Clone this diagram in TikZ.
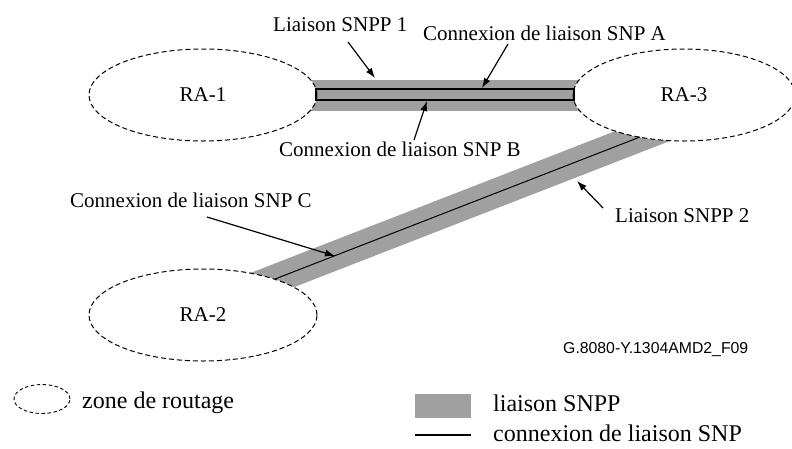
\documentclass[tikz,border=0pt]{standalone}
\usepackage{fontspec}
\setmainfont{Liberation Serif}
\newfontfamily\figsans{Liberation Sans}
\usetikzlibrary{shapes.geometric,arrows.meta}
\definecolor{bandgray}{RGB}{160,160,160}

\tikzset{
  zone/.style={ellipse, draw=black, line width=1pt, dash pattern=on 5pt off 3pt,
    fill=white, inner sep=0pt, minimum width=228pt, minimum height=92pt,
    font=\fontsize{21}{25}\selectfont},
  band/.style={draw=bandgray, line width=31pt, line cap=butt},
  diagband/.style={draw=bandgray, line width=29pt, line cap=butt},
  snpline/.style={draw=black, line width=1.4pt},
  pointer/.style={draw=black, line width=1.2pt, -{Latex[length=10pt,width=7pt]}},
  lbl/.style={anchor=base west, inner sep=0pt, font=\fontsize{21}{25}\selectfont},
  leglbl/.style={anchor=base west, inner sep=0pt, font=\fontsize{24}{28}\selectfont},
}

\begin{document}
\begin{tikzpicture}[x=1pt,y=-1pt]
\useasboundingbox (0,0) rectangle (792,448);

% SNPP links (grey bands), laid under the routing areas
\coordinate (b1s) at (300,95.5);
\coordinate (b1e) at (600,95.5);
\draw[band] (b1s) -- (b1e);
\coordinate (b2s) at (237.7,293.5);
\coordinate (b2e) at (674.5,123.6);
\draw[diagband] (b2s) -- (b2e);

% routing areas
\node[zone] (ra1) at (203,95) {RA-1};
\node[zone, minimum width=222pt] (ra3) at (684,95) {RA-3};
\node[zone] (ra2) at (203,315) {RA-2};

% SNP link connections
\coordinate (a1) at (316,89);
\coordinate (a2) at (574,100);
\draw[snpline] (a1) rectangle (a2);
\coordinate (c1) at (275,279);
\coordinate (c2) at (640,137);
\draw[draw=black, line width=1pt] (c1) -- (c2);

% labels
\node[lbl] (snpp1) at (273,31) {Liaison SNPP 1};
\node[lbl] (snpA) at (423,40) {Connexion de liaison SNP A};
\node[lbl] (snpB) at (279,156) {Connexion de liaison SNP B};
\node[lbl] (snpC) at (70,207) {Connexion de liaison SNP C};
\node[lbl] (snpp2) at (615,222) {Liaison SNPP 2};
\node[anchor=base west, inner sep=0pt, font=\figsans\fontsize{15.8}{18}\selectfont] (fig) at (563,353) {G.8080-Y.1304AMD2\_F09};

% label pointers
\coordinate (p1s) at (348,42);  \coordinate (p1e) at (375,78);
\coordinate (p2s) at (508,44);  \coordinate (p2e) at (482,88);
\coordinate (p3s) at (414,140); \coordinate (p3e) at (427,101);
\coordinate (p4s) at (207,217); \coordinate (p4e) at (335,256);
\coordinate (p5s) at (603,208); \coordinate (p5e) at (577,181);
\draw[pointer] (p1s) -- (p1e);
\draw[pointer] (p2s) -- (p2e);
\draw[pointer] (p3s) -- (p3e);
\draw[pointer] (p4s) -- (p4e);
\draw[pointer] (p5s) -- (p5e);

% legend
\node[ellipse, draw=black, line width=0.9pt, dash pattern=on 3.5pt off 2.5pt,
      inner sep=0pt, minimum width=56pt, minimum height=29pt] (legzone) at (42,399) {};
\node[leglbl] (legzonetxt) at (82,408) {zone de routage};
\node[fill=bandgray, inner sep=0pt, minimum width=56pt, minimum height=24pt] (legband) at (443,406) {};
\node[leglbl] (legbandtxt) at (493,411) {liaison SNPP};
\coordinate (l1) at (415,435);
\coordinate (l2) at (471,435);
\draw[snpline] (l1) -- (l2);
\node[leglbl] (leglinetxt) at (493,441) {connexion de liaison SNP};
\end{tikzpicture}
\end{document}
